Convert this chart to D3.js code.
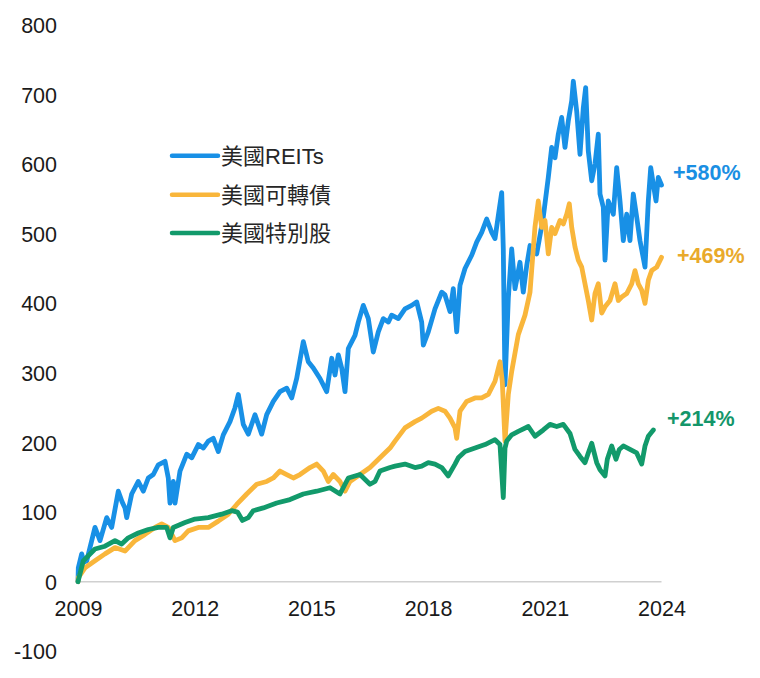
<!DOCTYPE html>
<html>
<head>
<meta charset="utf-8">
<script src="https://cdn.jsdelivr.net/npm/d3@7/dist/d3.min.js"></script>
<style>
  html, body { margin: 0; padding: 0; background: #fff; }
  svg { display: block; font-family: "Liberation Sans", Arial, "Noto Sans CJK TC", sans-serif; }
</style>
</head>
<body>
<svg id="chart" width="760" height="678"></svg>
<script>
// ---- data (fractional year, cumulative return %) ----
const seriesNames = ["美國REITs", "美國可轉債", "美國特別股"];
const endLabels = ["+580%", "+469%", "+214%"];
const yTicks = [-100, 0, 100, 200, 300, 400, 500, 600, 700, 800];
const xTicks = [2009, 2012, 2015, 2018, 2021, 2024];

const reitsT = [2009.000,2009.008,2009.095,2009.154,2009.224,2009.308,2009.437,2009.566,2009.738,2009.866,2010.036,2010.131,2010.208,2010.252,2010.380,2010.550,2010.679,2010.807,2010.936,2011.064,2011.237,2011.321,2011.365,2011.450,2011.494,2011.622,2011.794,2011.923,2012.093,2012.221,2012.350,2012.478,2012.607,2012.735,2012.907,2013.036,2013.121,2013.249,2013.378,2013.550,2013.722,2013.851,2014.021,2014.193,2014.365,2014.494,2014.622,2014.792,2014.920,2015.049,2015.221,2015.393,2015.522,2015.607,2015.692,2015.779,2015.864,2015.949,2016.121,2016.206,2016.334,2016.463,2016.591,2016.720,2016.848,2016.977,2017.064,2017.234,2017.406,2017.578,2017.707,2017.835,2017.877,2018.005,2018.177,2018.350,2018.434,2018.563,2018.648,2018.735,2018.820,2018.949,2019.121,2019.249,2019.378,2019.506,2019.635,2019.720,2019.805,2019.892,2019.933,2019.977,2020.062,2020.149,2020.234,2020.362,2020.447,2020.535,2020.620,2020.792,2020.961,2021.090,2021.177,2021.262,2021.347,2021.434,2021.519,2021.604,2021.692,2021.733,2021.820,2021.905,2021.990,2022.051,2022.118,2022.206,2022.290,2022.375,2022.419,2022.504,2022.548,2022.632,2022.761,2022.848,2022.933,2023.018,2023.105,2023.190,2023.275,2023.362,2023.447,2023.576,2023.661,2023.723,2023.790,2023.859,2023.918,2024.000];
const reitsV = [0,20,40,28,30,49,78,59,92,78,130,115,106,92,126,144,130,149,154,168,173,149,113,144,113,159,183,178,197,192,202,206,187,211,230,250,269,226,212,240,212,240,259,273,278,264,292,345,316,307,292,273,321,297,326,307,273,335,354,373,397,378,330,359,378,373,383,378,392,397,402,373,340,359,392,416,412,388,421,359,426,450,469,488,502,521,502,493,526,559,478,283,407,478,421,459,416,454,483,471,524,581,624,609,643,667,624,662,691,719,676,614,681,710,619,576,600,643,557,538,462,547,528,595,547,490,528,490,557,524,490,452,547,595,571,547,581,570];

const cbT = [2009.000,2009.008,2009.180,2009.437,2009.694,2009.951,2010.208,2010.465,2010.722,2010.979,2011.152,2011.321,2011.494,2011.666,2011.835,2012.093,2012.350,2012.607,2012.864,2013.080,2013.337,2013.594,2013.851,2014.021,2014.193,2014.365,2014.535,2014.707,2014.964,2015.136,2015.306,2015.435,2015.563,2015.735,2015.864,2015.992,2016.249,2016.506,2016.763,2017.021,2017.149,2017.406,2017.663,2017.835,2018.093,2018.262,2018.434,2018.563,2018.692,2018.735,2018.820,2018.992,2019.206,2019.378,2019.548,2019.720,2019.848,2019.907,2019.977,2020.062,2020.149,2020.319,2020.491,2020.620,2020.704,2020.748,2020.833,2020.920,2021.005,2021.090,2021.177,2021.262,2021.391,2021.476,2021.563,2021.630,2021.692,2021.776,2021.861,2021.949,2022.033,2022.118,2022.206,2022.290,2022.375,2022.463,2022.548,2022.676,2022.805,2022.890,2022.977,2023.105,2023.234,2023.319,2023.404,2023.491,2023.576,2023.661,2023.748,2023.877,2024.000];
const cbV = [0,6,20,30,40,49,44,59,68,78,83,78,59,63,73,78,78,87,97,111,126,140,144,149,159,154,149,154,164,169,159,144,154,144,130,144,154,164,178,192,202,221,230,235,245,249,245,235,221,206,245,259,264,264,269,288,316,288,202,269,302,355,383,416,478,510,547,509,519,471,509,500,519,514,528,543,509,481,462,452,428,404,376,414,428,386,395,404,428,404,409,414,428,447,428,419,400,433,447,452,466];

const prefT = [2009.000,2009.136,2009.437,2009.694,2009.951,2010.123,2010.293,2010.550,2010.807,2011.064,2011.280,2011.365,2011.450,2011.751,2012.008,2012.350,2012.694,2012.951,2013.100,2013.228,2013.378,2013.506,2013.763,2014.108,2014.450,2014.792,2015.136,2015.478,2015.735,2015.864,2015.949,2016.249,2016.506,2016.635,2016.763,2017.021,2017.149,2017.406,2017.663,2017.835,2018.005,2018.177,2018.350,2018.519,2018.692,2018.776,2018.949,2019.206,2019.463,2019.720,2019.848,2019.933,2019.977,2020.021,2020.149,2020.319,2020.576,2020.748,2020.961,2021.134,2021.306,2021.476,2021.648,2021.776,2021.905,2022.033,2022.118,2022.206,2022.334,2022.419,2022.548,2022.607,2022.720,2022.830,2022.915,2023.018,2023.190,2023.362,2023.491,2023.576,2023.661,2023.790,2024.000];
const prefV = [0,30,47,51,59,54,63,70,75,78,78,63,78,85,90,92,97,102,100,88,92,102,106,113,118,126,130,135,126,140,149,154,140,144,159,164,166,169,164,166,171,169,164,152,169,178,187,192,197,204,197,121,192,202,211,216,223,209,218,226,223,226,213,190,180,171,185,199,171,161,152,176,195,176,190,195,190,185,169,195,209,218];

const colors = ["#1890e6", "#f9b63b", "#129a6b"];
const labelColors = ["#1a8fe3", "#e9aa2b", "#14966a"];

// ---- layout ----
const svg = d3.select("#chart");
const x = d3.scaleLinear().domain([2009, 2024]).range([78, 661.5]);
const y = d3.scaleLinear().domain([-100, 800]).range([651.3, 24.9]);

// y tick labels
const yAxis = d3.axisLeft(y).tickValues(yTicks).tickSize(0).tickPadding(0).tickFormat(d => String(d));
const gy = svg.append("g").attr("transform", "translate(57,0)").call(yAxis);
gy.select(".domain").remove();
gy.selectAll("text").attr("font-size", 21.5).attr("fill", "#1a1a1a")
  .attr("font-family", "Liberation Sans, Arial, sans-serif").attr("dy", "0.35em").attr("x", 0);

// zero baseline
svg.append("line").attr("x1", x(2009)).attr("x2", x(2024)).attr("y1", y(0)).attr("y2", y(0))
  .attr("stroke", "#d0d0d0").attr("stroke-width", 1.5);

// x tick labels
const xAxis = d3.axisBottom(x).tickValues(xTicks).tickSize(0).tickPadding(0).tickFormat(d => String(d));
const gx = svg.append("g").attr("transform", "translate(0,608)").call(xAxis);
gx.select(".domain").remove();
gx.selectAll("text").attr("font-size", 21.5).attr("fill", "#1a1a1a")
  .attr("font-family", "Liberation Sans, Arial, sans-serif").attr("dy", "0.35em").attr("y", 0);

// lines
const data = [
  d3.zip(reitsT, reitsV),
  d3.zip(cbT, cbV),
  d3.zip(prefT, prefV)
];
const line = d3.line().x(d => x(d[0])).y(d => y(d[1]));
data.forEach((s, i) => {
  svg.append("path").datum(s).attr("d", line).attr("fill", "none")
    .attr("stroke", colors[i]).attr("stroke-width", 4.8)
    .attr("stroke-linejoin", "round").attr("stroke-linecap", "round");
});

// end labels
const endPos = [[673, 172], [677, 255], [667, 418]];
endLabels.forEach((t, i) => {
  svg.append("text").attr("x", endPos[i][0]).attr("y", endPos[i][1]).attr("dy", "0.35em")
    .attr("font-size", 21.5).attr("font-weight", "bold").attr("fill", labelColors[i])
    .attr("font-family", "Liberation Sans, Arial, sans-serif").text(t);
});

// legend
const legY = [155.7, 194.7, 233];
seriesNames.forEach((n, i) => {
  svg.append("line").attr("x1", 172).attr("x2", 218).attr("y1", legY[i]).attr("y2", legY[i])
    .attr("stroke", colors[i]).attr("stroke-width", 4.5).attr("stroke-linecap", "round");
  svg.append("text").attr("x", 221).attr("y", legY[i]).attr("dy", "0.36em")
    .attr("font-size", 22).attr("fill", "#262626")
    .attr("font-family", "Liberation Sans, Arial, 'Noto Sans CJK TC', sans-serif").text(n);
});
</script>
</body>
</html>
